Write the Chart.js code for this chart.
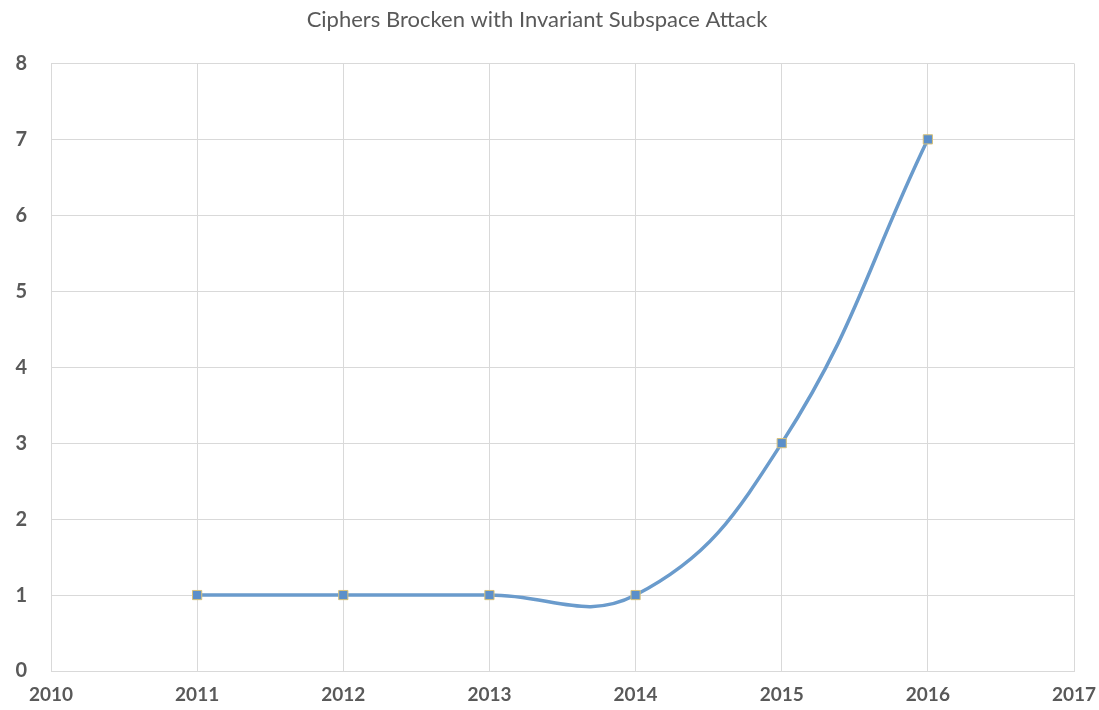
<!DOCTYPE html>
<html>
<head>
<meta charset="utf-8">
<script src="https://cdn.jsdelivr.net/npm/chart.js@4/dist/chart.umd.min.js"></script>
<style>
  html, body { margin: 0; padding: 0; background: #fff; }
  #wrap { width: 1099px; height: 710px; }
</style>
</head>
<body>
<div id="wrap"><canvas id="Chart" width="1099" height="710"></canvas></div>
<script>
const years = [2011, 2012, 2013, 2014, 2015, 2016];
const ciphers = [1, 1, 1, 1, 3, 7];
const chartTitle = 'Ciphers Brocken with Invariant Subspace Attack';

const textGray = '#595959';
const gridGray = '#d9d9d9';

const ctx = document.getElementById('Chart');
new Chart(ctx, {
  type: 'line',
  data: {
    datasets: [{
      label: 'Ciphers',
      data: years.map((y, i) => ({ x: y, y: ciphers[i] })),
      borderColor: '#6a9bcc',
      borderWidth: 3.5,
      tension: 0.42,
      pointStyle: 'rect',
      pointRadius: 6.5,
      pointBackgroundColor: '#5b8fca',
      pointBorderColor: '#d9c27a',
      pointBorderWidth: 1
    }]
  },
  options: {
    responsive: false,
    animation: false,
    layout: { padding: { left: 0, right: 25, top: 0, bottom: 0 } },
    plugins: {
      legend: { display: false },
      tooltip: { enabled: false },
      title: {
        display: true,
        text: chartTitle,
        color: textGray,
        font: { family: 'Lato', size: 22, weight: 'normal' },
        padding: { top: 7, bottom: 30 }
      }
    },
    scales: {
      x: {
        type: 'linear',
        min: 2010,
        max: 2017,
        ticks: {
          stepSize: 1,
          color: textGray,
          font: { family: 'Lato', size: 19, weight: 'bold' },
          padding: 12,
          callback: v => String(v)
        },
        grid: { color: gridGray, drawTicks: false },
        border: { color: gridGray },
        afterFit: s => {
          s.height = 39;
          s.paddingLeft = 0;
          s.paddingRight = 0;
        }
      },
      y: {
        min: 0,
        max: 8,
        ticks: {
          stepSize: 1,
          color: textGray,
          font: { family: 'Lato', size: 20, weight: 'bold' },
          padding: 24
        },
        grid: { color: gridGray, drawTicks: false },
        border: { color: gridGray },
        afterFit: s => { s.width = 51; }
      }
    }
  }
});
</script>
</body>
</html>
